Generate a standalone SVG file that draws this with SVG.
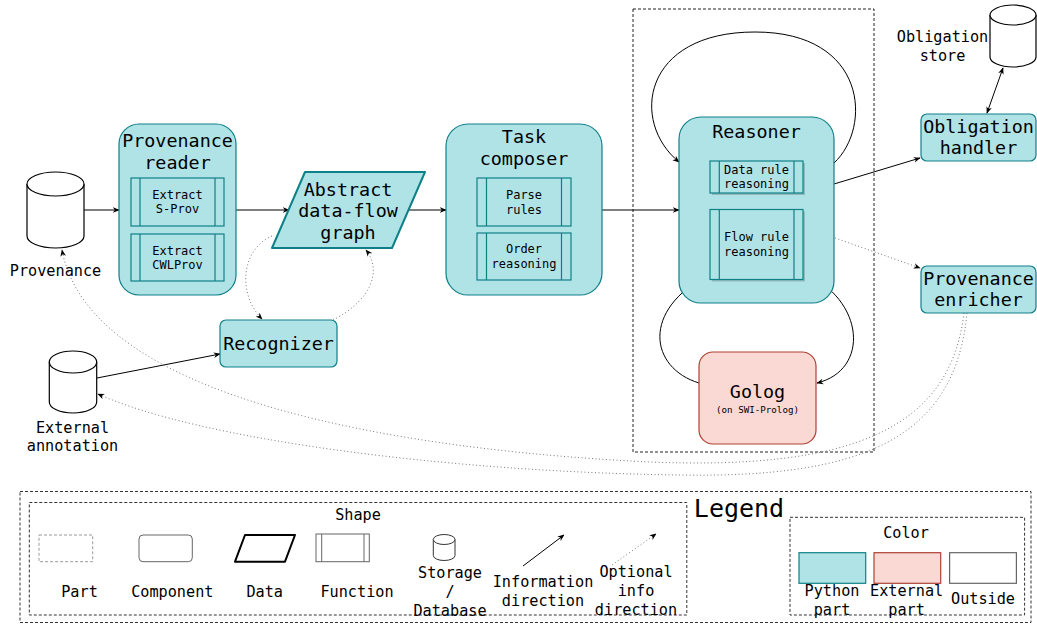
<svg xmlns="http://www.w3.org/2000/svg" width="1037" height="624" viewBox="0 0 1037 624">
  <defs>
    <marker id="arrow" viewBox="0 0 10 10" refX="9" refY="5" markerWidth="7" markerHeight="7" orient="auto-start-reverse" markerUnits="userSpaceOnUse">
      <path d="M0,1 L10,5 L0,9 L3,5 z" fill="#000"/>
    </marker>
    <style>
      text { font-family: "DejaVu Sans Mono", "Liberation Mono", monospace; fill: #000; text-anchor: middle; dominant-baseline: central; }
      .t-big { font-size: 18.4px; }
      .t-mid { font-size: 15.2px; }
      .t-small { font-size: 12px; }
      .t-tiny { font-size: 9.2px; }
      .t-legend { font-size: 25px; }
      .py { fill: #b0e3e6; stroke: #0e8088; stroke-width: 1.2; }
      .ext { fill: #fad9d5; stroke: #ae4132; stroke-width: 1.2; }
      .fn { fill: #b0e3e6; stroke: #0e8088; stroke-width: 1.2; }
      .fnbar { stroke: #0e8088; stroke-width: 1.2; fill: none; }
      .shadow { fill: #000; opacity: 0.18; }
      .store { fill: #fff; stroke: #000; stroke-width: 1.2; }
      .part { fill: none; stroke: #222; stroke-width: 1; stroke-dasharray: 3 2; }
      .solid { fill: none; stroke: #000; stroke-width: 1; marker-end: url(#arrow); }
      .dotted { fill: none; stroke: #777; stroke-width: 1; stroke-dasharray: 1 2.5; marker-end: url(#arrow); }
    </style>
  </defs>

  <rect width="1037" height="624" fill="#fff"/>

  <!-- Reasoning part (dashed boundary) -->
  <g id="reasoning-part">
    <rect class="part" x="633" y="9" width="241" height="443"/>
  </g>

  <!-- Connectors -->
  <g id="connectors">
    <path class="solid" d="M84,210 L119,210"/>
    <path class="solid" d="M236,210 L289,210"/>
    <path class="solid" d="M408,210 L446,210"/>
    <path class="solid" d="M602,210 L679,210"/>
    <path class="solid" d="M834,163 C872,128 868,32 755,32 C642,32 630,122 679,162"/>
    <path class="solid" d="M834,184 L920,158"/>
    <path class="dotted" d="M835,238 L920,268"/>
    <path class="solid" d="M987,113 L1003,68" marker-start="url(#arrow)"/>
    <path class="solid" d="M699,383 C650,368 640,310 710,274"/>
    <path class="solid" d="M804,273 C865,300 870,370 817,383"/>
    <path class="solid" d="M97,378 L220,354"/>
    <path class="dotted" d="M272,236 C240,250 238,295 262,319"/>
    <path class="dotted" d="M333,320 C372,300 382,270 366,250"/>
    <path class="dotted" d="M964,313 C950,430 850,470 650,462 C400,450 90,400 62,250"/>
    <path class="dotted" d="M967,313 C955,440 860,478 680,475 C450,472 200,440 98,394"/>
  </g>

  <!-- Provenance store -->
  <g id="provenance">
    <path class="store" d="M27,184 V236 A28.5,12 0 0 0 84,236 V184"/>
    <ellipse class="store" cx="55.5" cy="184" rx="28.5" ry="12"/>
    <text class="t-mid" x="55.5" y="271">Provenance</text>
  </g>

  <!-- Provenance reader -->
  <g id="provenance-reader">
    <rect class="py" x="119" y="124" width="117" height="171" rx="20"/>
    <text class="t-big" x="177.5" y="140">Provenance</text>
    <text class="t-big" x="177.5" y="162">reader</text>
    <rect class="fn" x="131" y="178" width="93" height="48"/>
    <path class="fnbar" d="M140,178 V226 M215,178 V226"/>
    <text class="t-small" x="177.5" y="195">Extract</text>
    <text class="t-small" x="177.5" y="209">S-Prov</text>
    <rect class="fn" x="131" y="234" width="93" height="47"/>
    <path class="fnbar" d="M140,234 V281 M215,234 V281"/>
    <text class="t-small" x="177.5" y="250.5">Extract</text>
    <text class="t-small" x="177.5" y="265">CWLProv</text>
  </g>

  <!-- Abstract data-flow graph -->
  <g id="abstract-graph">
    <path d="M305,172 L425,172 L392,248 L272,248 Z" fill="#b0e3e6" stroke="#0e8088" stroke-width="2" stroke-linejoin="round"/>
    <text class="t-big" x="348" y="189">Abstract</text>
    <text class="t-big" x="348" y="210">data-flow</text>
    <text class="t-big" x="348" y="232">graph</text>
  </g>

  <!-- Task composer -->
  <g id="task-composer">
    <rect class="py" x="446" y="124" width="156" height="171" rx="22"/>
    <text class="t-big" x="524" y="136.5">Task</text>
    <text class="t-big" x="524" y="158.5">composer</text>
    <rect class="fn" x="477" y="178" width="94" height="48"/>
    <path class="fnbar" d="M486.5,178 V226 M561.5,178 V226"/>
    <text class="t-small" x="524" y="195">Parse</text>
    <text class="t-small" x="524" y="209.5">rules</text>
    <rect class="fn" x="477" y="233" width="94" height="47"/>
    <path class="fnbar" d="M486.5,233 V280 M561.5,233 V280"/>
    <text class="t-small" x="524" y="248.5">Order</text>
    <text class="t-small" x="524" y="263.5">reasoning</text>
  </g>

  <!-- Reasoner -->
  <g id="reasoner">
    <rect class="py" x="679" y="117" width="155" height="186" rx="22"/>
    <text class="t-big" x="756.5" y="131.5">Reasoner</text>
    <rect class="shadow" x="712" y="163" width="93" height="32"/>
    <rect class="fn" x="710" y="161" width="93" height="32"/>
    <path class="fnbar" d="M719.3,161 V193 M794,161 V193"/>
    <text class="t-small" x="756.5" y="170">Data rule</text>
    <text class="t-small" x="756.5" y="184.3">reasoning</text>
    <rect class="shadow" x="712" y="211.5" width="93" height="70"/>
    <rect class="fn" x="710" y="209.5" width="93" height="70"/>
    <path class="fnbar" d="M719.3,209.5 V279.5 M794,209.5 V279.5"/>
    <text class="t-small" x="756.5" y="237.3">Flow rule</text>
    <text class="t-small" x="756.5" y="251.7">reasoning</text>
  </g>

  <!-- Golog -->
  <g id="golog">
    <rect class="ext" x="699" y="352" width="117" height="92" rx="14"/>
    <text class="t-big" x="757.5" y="391.5">Golog</text>
    <text class="t-tiny" x="757.5" y="409">(on SWI-Prolog)</text>
  </g>

  <!-- Obligation store -->
  <g id="obligation-store">
    <path class="store" d="M990,15 V57 A23,10 0 0 0 1036,57 V15"/>
    <ellipse class="store" cx="1013" cy="15" rx="23" ry="10"/>
    <text class="t-mid" x="942.5" y="36.7">Obligation</text>
    <text class="t-mid" x="942.5" y="55.7">store</text>
  </g>

  <!-- Obligation handler -->
  <g id="obligation-handler">
    <rect class="py" x="921" y="114" width="115" height="47" rx="6"/>
    <text class="t-big" x="978.5" y="126.7">Obligation</text>
    <text class="t-big" x="978.5" y="147.7">handler</text>
  </g>

  <!-- Provenance enricher -->
  <g id="provenance-enricher">
    <rect class="py" x="921" y="266" width="115" height="47" rx="6"/>
    <text class="t-big" x="978.5" y="278.3">Provenance</text>
    <text class="t-big" x="978.5" y="299.3">enricher</text>
  </g>

  <!-- Recognizer -->
  <g id="recognizer">
    <rect class="py" x="220" y="320" width="117" height="47" rx="6"/>
    <text class="t-big" x="278.5" y="343.3">Recognizer</text>
  </g>

  <!-- External annotation store -->
  <g id="external-annotation">
    <path class="store" d="M49.3,362 V402 A23.7,11 0 0 0 96.7,402 V362"/>
    <ellipse class="store" cx="73" cy="362" rx="23.7" ry="11"/>
    <text class="t-mid" x="72.5" y="427.7">External</text>
    <text class="t-mid" x="72.5" y="445.7">annotation</text>
  </g>

  <!-- Legend -->
  <g id="legend">
    <rect x="20" y="491.5" width="1011" height="131" fill="none" stroke="#333" stroke-width="1" stroke-dasharray="3 2"/>
    <text class="t-legend" x="739" y="508">Legend</text>

    <g id="legend-shape">
      <rect x="29.3" y="502.5" width="657.5" height="112.5" fill="none" stroke="#333" stroke-width="1" stroke-dasharray="3 2"/>
      <text class="t-mid" x="358" y="515">Shape</text>
      <rect x="39" y="535" width="53.7" height="26.7" fill="none" stroke="#999" stroke-width="1" stroke-dasharray="3 2"/>
      <rect x="139" y="535" width="53.3" height="26.7" rx="4" fill="#fff" stroke="#666" stroke-width="1"/>
      <path d="M245,535 L295,535 L285,561.7 L235,561.7 Z" fill="#fff" stroke="#000" stroke-width="2" stroke-linejoin="round"/>
      <rect x="316" y="534" width="53.3" height="27.7" fill="#fff" stroke="#666" stroke-width="1"/>
      <path d="M321.7,534 V561.7 M364,534 V561.7" stroke="#666" stroke-width="1" fill="none"/>
      <path d="M433.3,539.5 V555.5 A10.85,5 0 0 0 455,555.5 V539.5" fill="#fff" stroke="#333" stroke-width="1"/>
      <ellipse cx="444.15" cy="539.5" rx="10.85" ry="5" fill="#fff" stroke="#333" stroke-width="1"/>
      <path class="solid" d="M523,566 L564,535"/>
      <path class="dotted" d="M612,565 L656,534"/>
      <text class="t-mid" x="79.5" y="591.7">Part</text>
      <text class="t-mid" x="172.3" y="591.7">Component</text>
      <text class="t-mid" x="264.7" y="591.7">Data</text>
      <text class="t-mid" x="357" y="591.7">Function</text>
      <text class="t-mid" x="450" y="573.3">Storage</text>
      <text class="t-mid" x="450" y="591.7">/</text>
      <text class="t-mid" x="450" y="610.7">Database</text>
      <text class="t-mid" x="543" y="581.7">Information</text>
      <text class="t-mid" x="543" y="600.7">direction</text>
      <text class="t-mid" x="636" y="571.7">Optional</text>
      <text class="t-mid" x="636" y="591">info</text>
      <text class="t-mid" x="636" y="610">direction</text>
    </g>

    <g id="legend-color">
      <rect x="790" y="517.3" width="234.6" height="97.7" fill="none" stroke="#333" stroke-width="1" stroke-dasharray="3 2"/>
      <text class="t-mid" x="906" y="532.7">Color</text>
      <rect class="py" x="799" y="552.7" width="66.7" height="30.6"/>
      <rect class="ext" x="874" y="552.7" width="66.7" height="30.6"/>
      <rect x="949.6" y="552.7" width="66.8" height="30.6" fill="#fff" stroke="#666" stroke-width="1.2"/>
      <text class="t-mid" x="832" y="591">Python</text>
      <text class="t-mid" x="832" y="610">part</text>
      <text class="t-mid" x="906.6" y="591">External</text>
      <text class="t-mid" x="906.6" y="610">part</text>
      <text class="t-mid" x="983" y="599.3">Outside</text>
    </g>
  </g>
</svg>
